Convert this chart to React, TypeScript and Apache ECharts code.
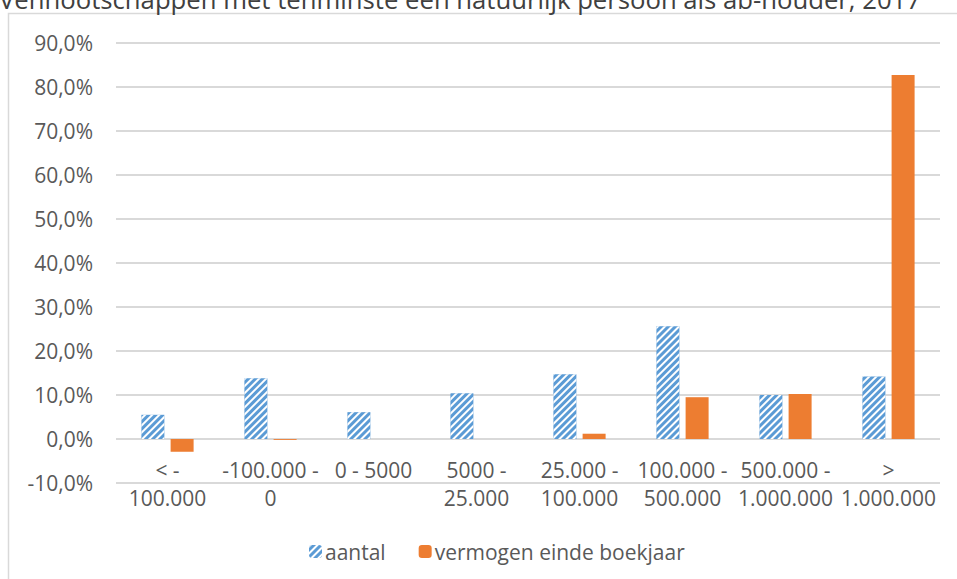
import React, { useEffect, useRef } from 'react';
import * as echarts from 'echarts';

const titleText = 'Vennootschappen met tenminste een natuurlijk persoon als ab-houder, 2017';
const categories = [
  '< -\n100.000',
  '-100.000 -\n0',
  '0 - 5000',
  '5000 -\n25.000',
  '25.000 -\n100.000',
  '100.000 -\n500.000',
  '500.000 -\n1.000.000',
  '>\n1.000.000',
];
const seriesNames = ['aantal', 'vermogen einde boekjaar'];
const aantal = [5.5, 13.8, 6.1, 10.4, 14.7, 25.6, 10.0, 14.2];
const vermogen = [-2.9, -0.2, 0, 0, 1.2, 9.5, 10.2, 82.7];
const yMin = -10;
const yMax = 90;
const yStep = 10;

const FONT = '"Open Sans", sans-serif';
const TEXT = '#595959';
const GRID = '#D9D9D9';
const BLUE = '#5B9BD5';
const ORANGE = '#ED7D31';

export default function App() {
  const ref = useRef<HTMLDivElement>(null);
  useEffect(() => {
    if (!ref.current) return;
    const chart = echarts.init(ref.current, undefined, { renderer: 'svg' });
    chart.setOption({
      animation: false,
      backgroundColor: '#ffffff',
      textStyle: { fontFamily: FONT },
      graphic: [
        {
          type: 'rect',
          shape: { x: 8.5, y: 13.5, width: 1000, height: 700 },
          style: { fill: 'none', stroke: GRID, lineWidth: 1.5 },
          silent: true,
          z: -10,
        },
        {
          type: 'text',
          x: -1,
          y: -0.5,
          style: {
            text: titleText,
            font: '25.7px "Open Sans", sans-serif',
            fill: '#404040',
            textAlign: 'left',
            textVerticalAlign: 'middle',
          },
          silent: true,
        },
      ],
      grid: { left: 116, right: 17, top: 43, bottom: 96, containLabel: false },
      legend: {
        data: seriesNames,
        left: 304,
        top: 536,
        itemWidth: 13,
        itemHeight: 13,
        itemGap: 33,
        textStyle: { color: TEXT, fontSize: 21, fontFamily: FONT, padding: [0, 0, 0, -2] },
      },
      xAxis: {
        type: 'category',
        data: categories,
        axisLine: { show: false },
        axisTick: { show: false },
        axisLabel: {
          color: TEXT,
          fontSize: 21,
          fontFamily: FONT,
          lineHeight: 28,
          margin: -27,
          interval: 0,
        },
      },
      yAxis: {
        type: 'value',
        min: yMin,
        max: yMax,
        interval: yStep,
        axisLine: { show: false },
        axisTick: { show: false },
        axisLabel: {
          color: TEXT,
          fontSize: 21,
          fontFamily: FONT,
          margin: 23,
          formatter: (v: number) => v.toFixed(1).replace('.', ',') + '%',
        },
        splitLine: { lineStyle: { color: GRID, width: 2 } },
      },
      series: [
        {
          name: seriesNames[0],
          type: 'bar',
          data: aantal,
          barWidth: 23,
          barGap: '27%',
          itemStyle: {
            color: BLUE,
            decal: {
              symbol: 'rect',
              symbolSize: 1,
              color: '#ffffff',
              dashArrayX: [1, 0],
              dashArrayY: [2, 2.5],
              rotation: -Math.PI / 4,
            },
          },
        },
        {
          name: seriesNames[1],
          type: 'bar',
          data: vermogen,
          barWidth: 23,
          barGap: '27%',
          itemStyle: { color: ORANGE },
        },
      ],
    });
    return () => chart.dispose();
  }, []);
  return (
    <div
      ref={ref}
      style={{ position: 'absolute', left: 0, top: 0, width: 957, height: 579 }}
    />
  );
}
